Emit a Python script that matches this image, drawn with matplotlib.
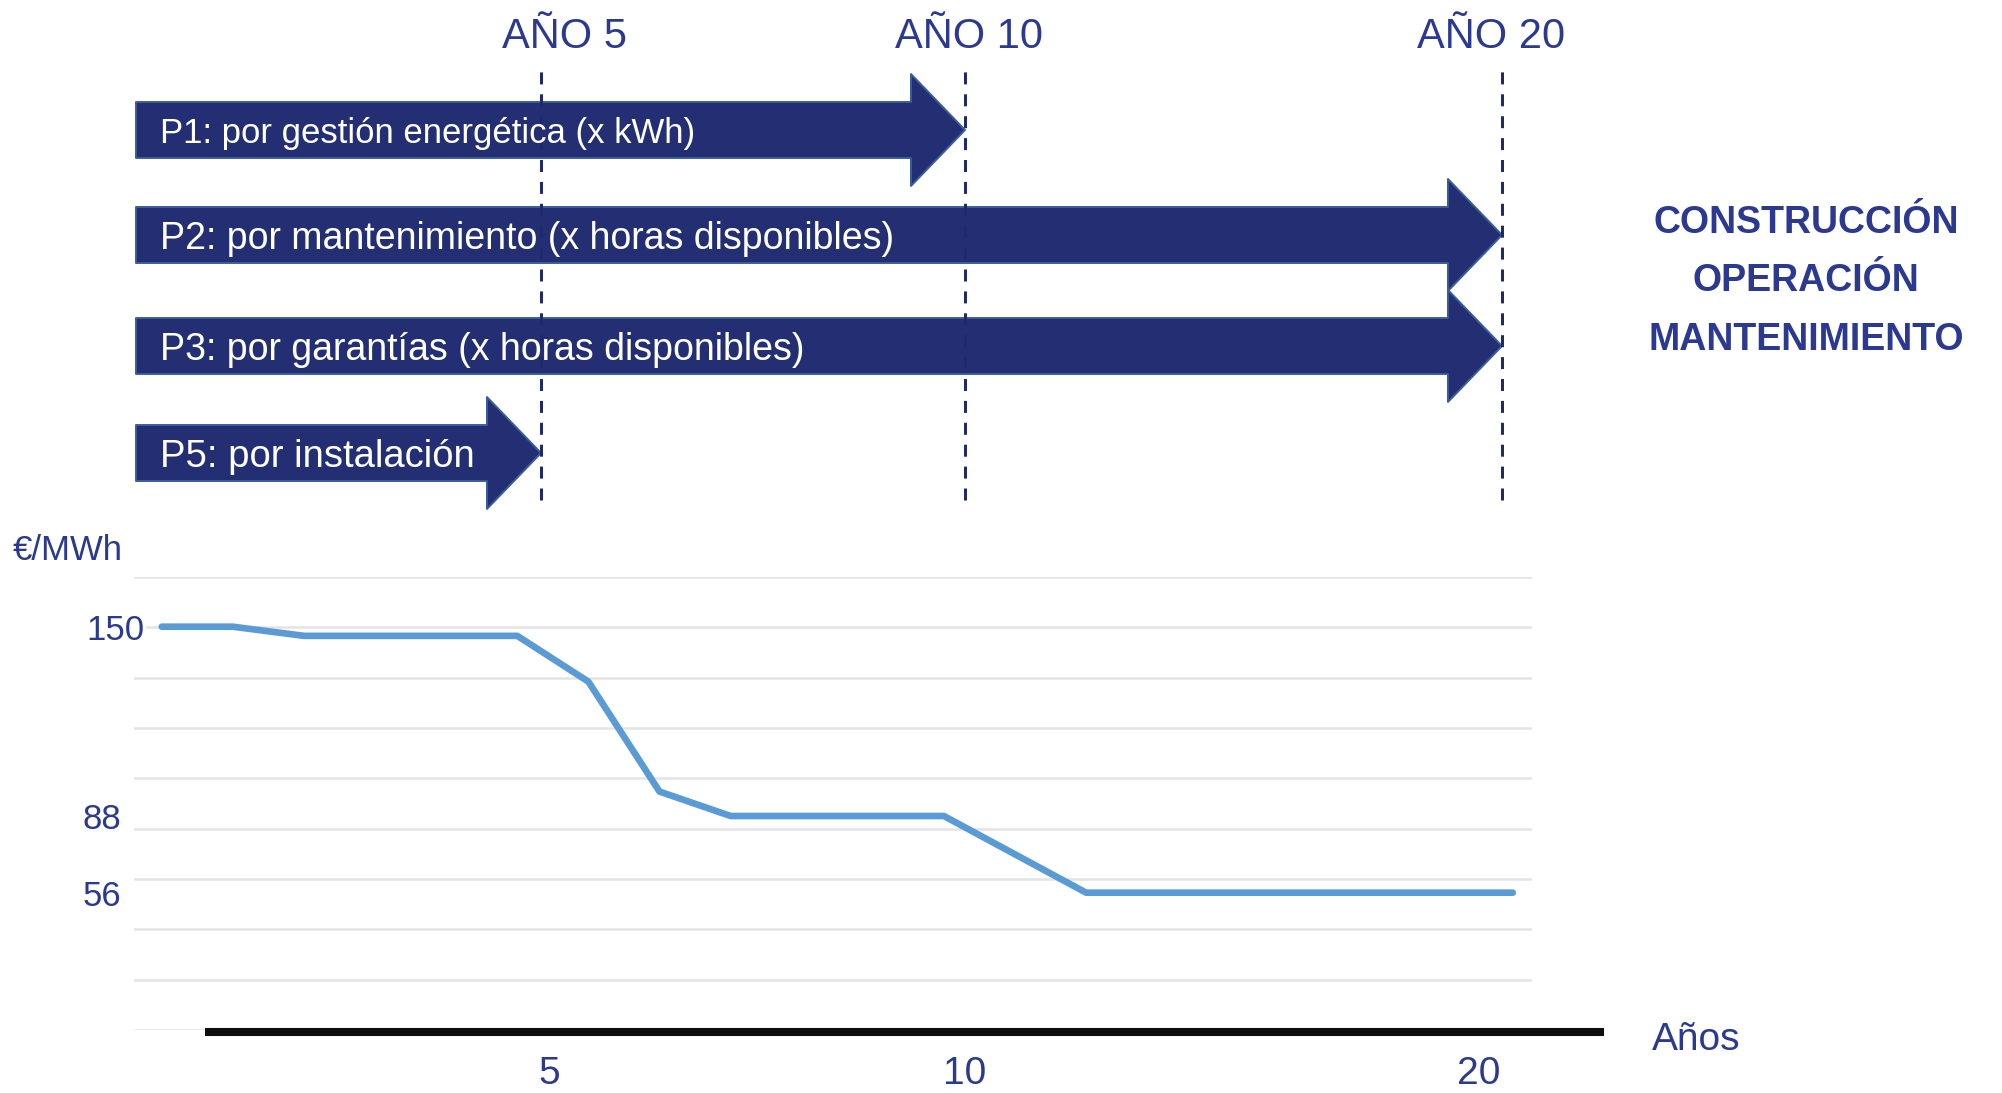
import numpy as np
import matplotlib
matplotlib.use('Agg')
import matplotlib.pyplot as plt
from matplotlib.patches import FancyArrowPatch
from matplotlib.ticker import NullLocator
from matplotlib.transforms import ScaledTranslation
from matplotlib import font_manager

# datos
anios = np.arange(1, 21)
precio = [150, 150, 147, 147, 147, 147, 132, 96, 88, 88, 88, 88, 72, 56, 56, 56, 56, 56, 56, 56]
precio_ticks = [150, 88, 56]
hitos = [5, 10, 20]
hitos_txt = ['AÑO 5', 'AÑO 10', 'AÑO 20']
hitos_eje = ['5', '10', '20']
pagos = ['P1: por gestión energética (x kWh)',
         'P2: por mantenimiento (x horas disponibles)',
         'P3: por garantías (x horas disponibles)',
         'P5: por instalación']
pagos_fin = [10, 20, 20, 5]
fases = ['CONSTRUCCIÓN', 'OPERACIÓN', 'MANTENIMIENTO']

NAVY = '#2B3990'
FLECHA = '#232F72'
BORDE = '#3A5C9C'
W, H = 2002, 1093

plt.rcParams['font.family'] = ['Liberation Sans', 'DejaVu Sans']

fig = plt.figure(figsize=(W / 100, H / 100), dpi=100)


def fx(px):
    return px / W


def fy(py):
    return 1 - py / H


def mover(lab, dx, dy=0):
    # desplaza una etiqueta unos pixeles (dy positivo = hacia abajo)
    lab.set_transform(lab.get_transform() + ScaledTranslation(dx / 100, -dy / 100, fig.dpi_scale_trans))


# grafico de precio: eje vertical esquematico (por tramos entre 150, 88 y 56)
v_k = np.array([-100, 56, 88, 150, 300])
p_k = np.array([892.7 + 156 * 2.397, 892.7, 816, 626.7, 626.7 - 150 * 3.053])


def yfwd(v):
    return -np.interp(v, v_k, p_k)


def yinv(f):
    return np.interp(f, -p_k, v_k)


ax = fig.add_axes([fx(134), fy(1030), fx(1532) - fx(134), fy(577) - fy(1030)])
ax.set_yscale('function', functions=(yfwd, yinv))
ax.set_xlim(0.61, 20.27)
ax.set_ylim(float(yinv(-1030)), float(yinv(-577)))
for g in yinv(-np.linspace(577, 1030, 10)):
    ax.axhline(g, color='#E4E4E4', lw=1.8, zorder=1)
ax.plot(anios, precio, color='#5B9BD5', lw=4.8, solid_capstyle='round',
        solid_joinstyle='round', zorder=3)
ax.set_xticks([])
ax.set_yticks(precio_ticks)
ax.set_yticklabels([str(v) for v in precio_ticks])
ax.yaxis.set_minor_locator(NullLocator())
ax.tick_params(axis='y', length=0, pad=2, labelsize=25, labelcolor=NAVY)
for s in ax.spines.values():
    s.set_visible(False)
for lab, d in zip(ax.get_yticklabels(), [13, -10, -10]):
    mover(lab, d)
    lab.set_bbox(dict(facecolor='white', edgecolor='none', pad=1))
ax.set_ylabel('€/MWh', rotation=0, ha='left', va='baseline', fontsize=25, color=NAVY)
ax.yaxis.set_label_coords((13 - 134) / 1398, (1030 - 560) / 453)

# linea de tiempo (escala por tramos como en el esquema)
yr_k = [-50, 0, 5, 10, 20, 70]
px_k = [136 - 50 * 81, 136, 541, 965, 1502, 1502 + 50 * 53.7]


def fwd(x):
    return np.interp(x, yr_k, px_k)


def inv(p):
    return np.interp(p, px_k, yr_k)


at = fig.add_axes([fx(205), fy(1032), fx(1604) - fx(205), 1 - fy(1032)], facecolor='none')
at.set_xscale('function', functions=(fwd, inv))
at.set_xlim(float(inv(205)), float(inv(1604)))
at.set_ylim(1032, 0)
for k in ['left', 'right', 'top']:
    at.spines[k].set_visible(False)
at.spines['bottom'].set_linewidth(5.8)
at.spines['bottom'].set_color('#0D0D0D')
at.spines['bottom'].set_capstyle('butt')
at.set_xticks(hitos)
at.set_xticklabels(hitos_eje)
at.xaxis.set_minor_locator(NullLocator())
at.tick_params(axis='x', length=0, pad=17, labelsize=28, labelcolor=NAVY)
at.set_yticks([])
for lab, d in zip(at.get_xticklabels(), [8, 0, -23]):
    mover(lab, d)

filas = [130, 235, 346, 453]
tam_txt = [25, 27, 27, 27.5]
for txt, fin, yy, fs in zip(pagos, pagos_fin, filas, tam_txt):
    arr = FancyArrowPatch((0, yy), (fin, yy),
                          arrowstyle='simple,head_length=38.9,head_width=80.6,tail_width=40.3',
                          mutation_scale=1, shrinkA=0, shrinkB=0, fc=FLECHA, ec=BORDE,
                          lw=1.4, clip_on=False, zorder=2)
    at.add_patch(arr)
    at.annotate(txt, xy=(0, yy), xytext=(24, 0), textcoords='offset pixels',
                color='white', fontsize=fs, ha='left', va='center_baseline',
                annotation_clip=False, zorder=4)

at.vlines(hitos, 500, 64, colors='#1F2A6B', lw=2.16, linestyles=[(0, (4, 3.3))], zorder=3)
for h, t, d in zip(hitos, hitos_txt, [23, 4, -11]):
    at.annotate(t, xy=(h, 33), xytext=(d, 0), textcoords='offset pixels',
                ha='center', va='center_baseline', fontsize=30, color=NAVY)

at.annotate('Años', xy=(1, 0), xycoords='axes fraction', xytext=(48, -18),
            textcoords='offset pixels', ha='left', va='baseline', fontsize=28,
            color=NAVY, annotation_clip=False)

# fases a la derecha
nombres = {f.name for f in font_manager.fontManager.ttflist}
if 'Liberation Sans Narrow' in nombres:
    fam, fs = ['Liberation Sans Narrow', 'Liberation Sans'], 32
else:
    fam, fs = ['Liberation Sans', 'DejaVu Sans'], 27
for i, t in enumerate(fases):
    fig.text(fx(1806), fy(219 + i * 58.5), t, ha='center', va='center_baseline',
             fontsize=fs, fontweight='bold', color=NAVY, family=fam)

fig.savefig('out.png', dpi=100, facecolor='white')
